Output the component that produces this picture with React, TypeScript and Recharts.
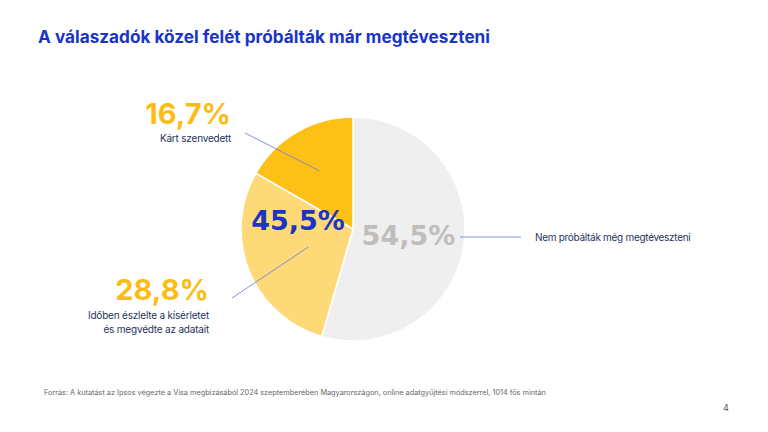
import { PieChart, Pie, Cell } from 'recharts';

const segments = ['Nem próbálták még megtéveszteni', 'Időben észlelte a kísérletet és megvédte az adatait', 'Kárt szenvedett'];
const shares = [54.5, 28.8, 16.7];
const descLines = [
  ['Nem próbálták még megtéveszteni'],
  ['Időben észlelte a kísérletet', 'és megvédte az  adatait'],
  ['Kárt szenvedett'],
];
const colors = ['#EFEFEF', '#FDD978', '#FCC016'];

const title = 'A válaszadók közel felét próbálták már megtéveszteni';
const source =
  'Forrás: A kutatást az Ipsos végezte a Visa megbízásából 2024 szeptemberében Magyarországon, online adatgyűjtési módszerrel, 1014 fős mintán';
const pageNo = '4';

const data = segments.map((name, i) => ({ name, value: shares[i] }));
const targeted = shares[1] + shares[2];

const fmt = (v: number) => v.toFixed(1).replace('.', ',') + '%';
const RAD = Math.PI / 180;
const BLUE = '#1A34C8';
const NAVY = '#27325E';
const LINE = '#7386DE';
const FONT = 'Inter, "Noto Sans", sans-serif';

// where the callout text sits for each slice (right edge for left side labels)
const callouts = [
  { x: 535, y: 237, end: { x: 521, y: 237 } },
  { x: 209, y: 300, end: { x: 232, y: 298 } },
  { x: 231, y: 124, end: { x: 245, y: 133 } },
];

function renderLabel(props: any) {
  const { cx, cy, midAngle, outerRadius, index, value } = props;
  const c = callouts[index];
  if (index === 0) {
    const lx = cx + outerRadius * Math.cos(-midAngle * RAD) * 0.5;
    const x0 = cx + outerRadius * 0.955;
    return (
      <g key={`lbl-${index}`}>
        <text x={lx} y={c.y - 2} textAnchor="middle" dominantBaseline="central" fill="#C1BDBB"
          fontFamily='"DejaVu Sans", sans-serif' fontWeight={700} fontSize={27}>
          {fmt(value)}
        </text>
        <line x1={x0} y1={c.y} x2={c.end.x} y2={c.end.y} stroke={LINE} strokeWidth={0.9} />
        <text x={c.x} y={c.y} dominantBaseline="central" fill={NAVY} fontFamily={FONT} fontSize={10}
          letterSpacing={-0.3}>
          {descLines[index][0]}
        </text>
      </g>
    );
  }
  const r = index === 1 ? outerRadius * 0.43 : outerRadius * 0.6;
  const ix = cx + r * Math.cos(-midAngle * RAD);
  const iy = cy + r * Math.sin(-midAngle * RAD);
  const first = index === 1 ? 19 : 18;
  return (
    <g key={`lbl-${index}`}>
      <line x1={ix} y1={iy} x2={c.end.x} y2={c.end.y} stroke={LINE} strokeWidth={0.9} />
      <text x={c.x} y={c.y} textAnchor="end" fill="#FCBC12" fontFamily={FONT} fontWeight={700} fontSize={29}>
        {fmt(value)}
      </text>
      {descLines[index].map((t, k) => (
        <text key={k} x={c.x} y={c.y + first + k * 14} textAnchor="end" fill={NAVY} fontFamily={FONT}
          fontSize={10} letterSpacing={-0.2}>
          {t}
        </text>
      ))}
    </g>
  );
}

export default function App() {
  return (
    <div style={{ position: 'absolute', left: 0, top: 0, width: 768, height: 432, background: '#fff', fontFamily: FONT }}>
      <PieChart width={768} height={432} margin={{ top: 0, right: 0, bottom: 0, left: 0 }}>
        <Pie
          data={data}
          dataKey="value"
          nameKey="name"
          cx={353}
          cy={229}
          outerRadius={112}
          startAngle={90}
          endAngle={-270}
          stroke="#fff"
          strokeWidth={1.5}
          isAnimationActive={false}
          labelLine={false}
          label={renderLabel}
        >
          {data.map((d, i) => (
            <Cell key={d.name} fill={colors[i]} />
          ))}
        </Pie>
      </PieChart>
      <svg width={768} height={432} style={{ position: 'absolute', left: 0, top: 0, pointerEvents: 'none' }}>
        <text x={38} y={43} fill={BLUE} fontFamily={FONT} fontWeight={700} fontSize={17.2}>
          {title}
        </text>
        <text x={298} y={220} textAnchor="middle" dominantBaseline="central" fill="#1B34C4"
          fontFamily='"DejaVu Sans", sans-serif' fontWeight={700} fontSize={27}>
          {fmt(targeted)}
        </text>
        <text x={44} y={395} fill="#666" fontFamily={FONT} fontSize={7.3}>
          {source}
        </text>
        <text x={726} y={411} textAnchor="middle" fill="#555" fontFamily={FONT} fontSize={9}>
          {pageNo}
        </text>
      </svg>
    </div>
  );
}
